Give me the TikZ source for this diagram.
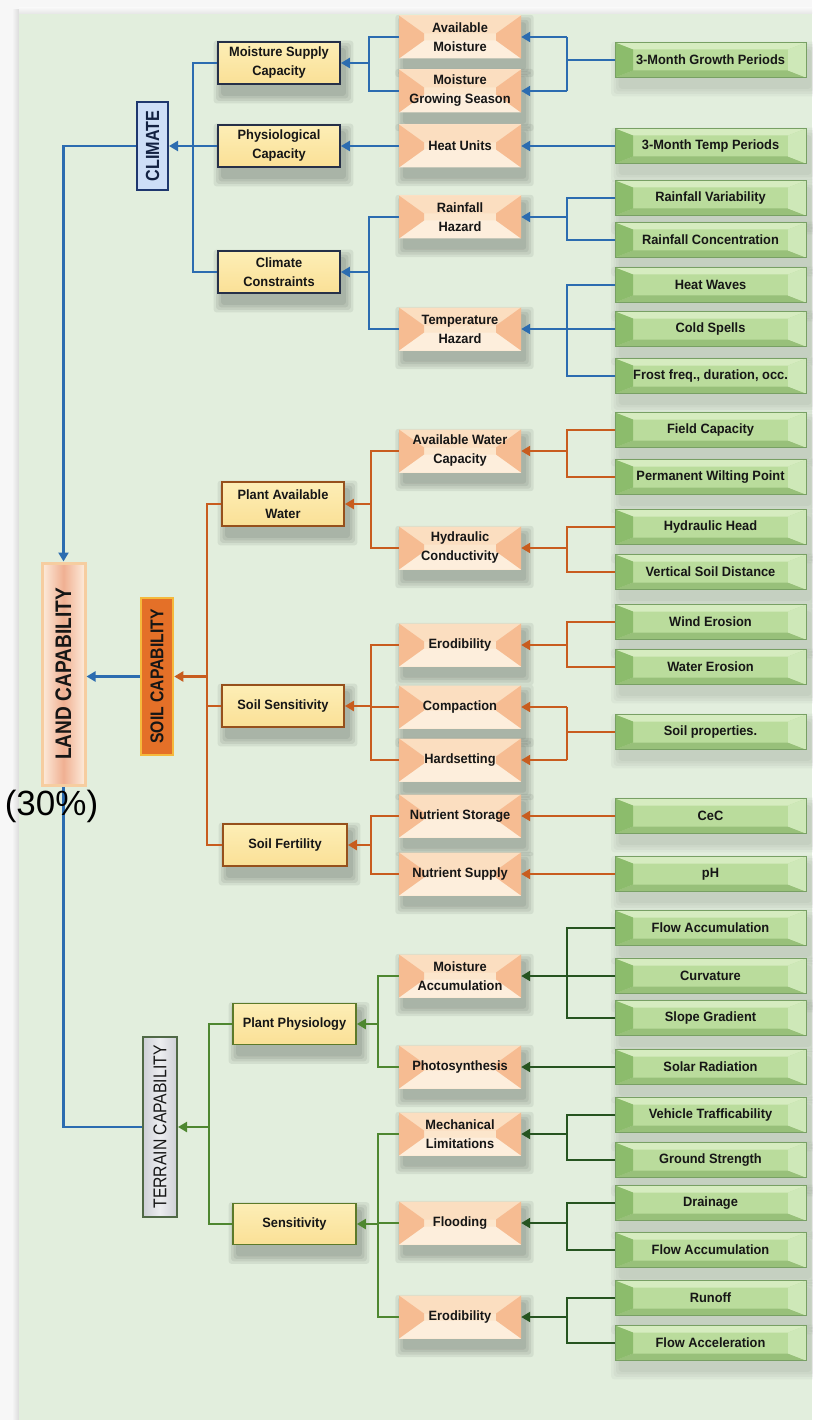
\documentclass[tikz,border=0pt]{standalone}
\usepackage{fontspec}
\setmainfont{Liberation Sans}
\newfontfamily\vfont[FakeStretch=0.85]{Liberation Sans}
\newfontfamily\bfnt[FakeStretch=0.95]{Liberation Sans}
\usetikzlibrary{arrows.meta,calc}
\pgfdeclarelayer{bg}
\pgfdeclarelayer{shad}
\pgfsetlayers{bg,shad,main}
\definecolor{outer}{RGB}{247,247,247}
\definecolor{panel}{RGB}{226,238,221}
\definecolor{txt}{RGB}{22,22,22}
\definecolor{cblue}{RGB}{44,108,176}
\definecolor{corange}{RGB}{200,92,30}
\definecolor{cgreen}{RGB}{78,135,48}
\definecolor{cdgreen}{RGB}{38,84,32}
\definecolor{ytop}{RGB}{253,238,182}
\definecolor{ybot}{RGB}{250,224,150}
\definecolor{bclim}{RGB}{38,48,72}
\definecolor{bsoil}{RGB}{150,80,28}
\definecolor{bterr}{RGB}{92,122,42}
\definecolor{omid}{RGB}{252,230,204}
\definecolor{otop}{RGB}{251,222,192}
\definecolor{obot}{RGB}{253,238,220}
\definecolor{oside}{RGB}{246,188,146}
\definecolor{gmid}{RGB}{186,220,156}
\definecolor{gtop}{RGB}{214,236,192}
\definecolor{gbot}{RGB}{152,192,122}
\definecolor{gleft}{RGB}{140,188,108}
\definecolor{gright}{RGB}{206,232,184}
\definecolor{gedge}{RGB}{120,160,100}
\definecolor{landb}{RGB}{246,205,160}
\definecolor{landl}{RGB}{253,236,220}
\definecolor{landm}{RGB}{240,176,146}
\definecolor{soilf}{RGB}{228,112,40}
\definecolor{soilb}{RGB}{245,185,60}
\definecolor{climf}{RGB}{205,222,247}
\definecolor{climb}{RGB}{30,55,110}
\definecolor{terrl}{RGB}{206,208,214}
\definecolor{terrm}{RGB}{236,237,240}
\definecolor{terrb}{RGB}{80,105,70}
\newcommand\bshadow[2][0.065]{%
  \foreach \s in {0,2.5,5,7.5}{%
    \fill[black,opacity=#1,rounded corners=3pt]
      ([shift={(4-\s,7-\s)}]#2.north west) rectangle ([shift={(5+\s,11+\s)}]#2.south east);}}
\tikzset{
  bevel/.style n args={6}{path picture={
    \fill[#3] (path picture bounding box.north west) -- (path picture bounding box.north east)
      -- ([shift={(-#1,-#2)}]path picture bounding box.north east) -- ([shift={(#1,-#2)}]path picture bounding box.north west) -- cycle;
    \fill[#4] (path picture bounding box.south west) -- (path picture bounding box.south east)
      -- ([shift={(-#1,#2)}]path picture bounding box.south east) -- ([shift={(#1,#2)}]path picture bounding box.south west) -- cycle;
    \fill[#5] (path picture bounding box.north west) -- ([shift={(#1,-#2)}]path picture bounding box.north west)
      -- ([shift={(#1,#2)}]path picture bounding box.south west) -- (path picture bounding box.south west) -- cycle;
    \fill[#6] (path picture bounding box.north east) -- ([shift={(-#1,-#2)}]path picture bounding box.north east)
      -- ([shift={(-#1,#2)}]path picture bounding box.south east) -- (path picture bounding box.south east) -- cycle;
  }},
  boxtext/.style={text=txt, align=center, font=\bfnt\bfseries\fontsize{13.5}{19}\selectfont},
  ybox/.style={boxtext, draw=#1, line width=1.8pt, top color=ytop, bottom color=ybot,
    minimum width=122pt, minimum height=42pt, inner sep=1pt},
  obox/.style={boxtext, fill=omid, minimum width=122pt, minimum height=43pt, inner sep=0pt,
    bevel={25pt}{18pt}{otop}{obot}{oside}{oside}},
  gbox/.style={boxtext, fill=gmid, draw=gedge, line width=0.6pt, minimum width=191pt, minimum height=35pt,
    inner sep=0pt, bevel={18pt}{7pt}{gtop}{gbot}{gleft}{gright}},
  conn/.style={line width=2.4pt, line join=miter},
  cb/.style={conn, draw=cblue},
  co/.style={conn, draw=corange},
  cg/.style={conn, draw=cgreen},
  cd/.style={conn, draw=cdgreen},
  arr/.style={-{Triangle[length=9pt,width=10pt]}},
}
\begin{document}
\begin{tikzpicture}[x=1pt,y=-1pt]
\useasboundingbox (0,0) rectangle (812,1420);
\begin{pgfonlayer}{bg}
\fill[outer] (0,0) rectangle (812,1420);
\shade[left color=outer, right color=black!14] (12,10) rectangle (19,1420);
\shade[top color=outer, bottom color=black!10] (19,8) rectangle (812,14);
\fill[panel] (19,14) rectangle (812,1420);
\end{pgfonlayer}

% level 0 / 1 vertical boxes
\node[draw=landb, line width=3pt, left color=landl, right color=landl, middle color=landm,
  minimum width=43pt, minimum height=222pt, inner sep=0pt, text=txt] (land) at (63.5,674)
  {\rotatebox{90}{\vfont\bfseries\fontsize{22.5}{22.5}\selectfont LAND CAPABILITY}};
\node[draw=climb, line width=2pt, fill=climf, minimum width=31pt, minimum height=88pt, inner sep=0pt, text=climb!60!black] (clim) at (152.5,146)
  {\rotatebox{90}{\vfont\bfseries\fontsize{19}{19}\selectfont CLIMATE}};
\node[draw=soilb, line width=2.5pt, fill=soilf, minimum width=32pt, minimum height=157pt, inner sep=0pt, text=txt] (soil) at (157,676.5)
  {\rotatebox{90}{\vfont\bfseries\fontsize{18.5}{18.5}\selectfont SOIL CAPABILITY}};
\node[draw=terrb, line width=2pt, left color=terrl, right color=terrl, middle color=terrm, minimum width=34pt, minimum height=180pt, inner sep=0pt, text=txt] (terr) at (160,1127)
  {\rotatebox{90}{\vfont\fontsize{18.5}{18.5}\selectfont TERRAIN CAPABILITY}};

% level 2 yellow boxes
\node[ybox=bclim] (msc) at (279,63) {Moisture Supply\\Capacity};
\node[ybox=bclim] (pc) at (279,146) {Physiological\\Capacity};
\node[ybox=bclim] (cc) at (279,272) {Climate\\Constraints};
\node[ybox=bsoil, minimum height=44pt] (paw) at (283,504) {Plant Available\\Water};
\node[ybox=bsoil] (ss) at (283,706) {Soil Sensitivity};
\node[ybox=bsoil, minimum width=124pt] (sf) at (285,845) {Soil Fertility};
\node[ybox=bterr, minimum width=123pt, minimum height=41pt] (pp) at (294.5,1024) {Plant Physiology};
\node[ybox=bterr, minimum width=123pt, minimum height=41pt] (sens) at (294.5,1224) {Sensitivity};

% level 3 orange boxes
\node[obox] (am) at (460,37) {Available\\Moisture};
\node[obox] (mgs) at (460,91) {Moisture\\Growing Season};
\node[obox] (hu) at (460,146) {Heat Units};
\node[obox] (rh) at (460,217) {Rainfall\\Hazard};
\node[obox] (th) at (460,329) {Temperature\\Hazard};
\node[obox] (awc) at (460,451) {Available Water\\Capacity};
\node[obox] (hc) at (460,548) {Hydraulic\\Conductivity};
\node[obox] (ero) at (460,645) {Erodibility};
\node[obox] (comp) at (460,707) {Compaction};
\node[obox] (hard) at (460,760) {Hardsetting};
\node[obox] (nst) at (460,816) {Nutrient Storage};
\node[obox] (nsu) at (460,874) {Nutrient Supply};
\node[obox] (ma) at (460,976) {Moisture\\Accumulation};
\node[obox] (photo) at (460,1067) {Photosynthesis};
\node[obox] (ml) at (460,1134) {Mechanical\\Limitations};
\node[obox] (flood) at (460,1223) {Flooding};
\node[obox] (ero2) at (460,1317) {Erodibility};

% level 4 green boxes
\node[gbox] (mgp) at (710.5,60) {3-Month Growth Periods};
\node[gbox] (mtp) at (710.5,146) {3-Month Temp Periods};
\node[gbox] (rv) at (710.5,198) {Rainfall Variability};
\node[gbox] (rcn) at (710.5,240) {Rainfall Concentration};
\node[gbox] (hw) at (710.5,285) {Heat Waves};
\node[gbox] (cs) at (710.5,329) {Cold Spells};
\node[gbox] (fr) at (710.5,376) {Frost freq., duration, occ.};
\node[gbox] (fc) at (710.5,430) {Field Capacity};
\node[gbox] (pwp) at (710.5,477) {Permanent Wilting Point};
\node[gbox] (hh) at (710.5,527) {Hydraulic Head};
\node[gbox] (vsd) at (710.5,572) {Vertical Soil Distance};
\node[gbox] (wie) at (710.5,622) {Wind Erosion};
\node[gbox] (wae) at (710.5,667) {Water Erosion};
\node[gbox] (sp) at (710.5,732) {Soil properties.};
\node[gbox] (cec) at (710.5,816) {CeC};
\node[gbox] (ph) at (710.5,874) {pH};
\node[gbox] (fa) at (710.5,928) {Flow Accumulation};
\node[gbox] (cur) at (710.5,976) {Curvature};
\node[gbox] (sg) at (710.5,1018) {Slope Gradient};
\node[gbox] (sr) at (710.5,1067) {Solar Radiation};
\node[gbox] (vt) at (710.5,1115) {Vehicle Trafficability};
\node[gbox] (gs) at (710.5,1160) {Ground Strength};
\node[gbox] (dr) at (710.5,1203) {Drainage};
\node[gbox] (fa2) at (710.5,1250) {Flow Accumulation};
\node[gbox] (ru) at (710.5,1298) {Runoff};
\node[gbox] (fac) at (710.5,1343) {Flow Acceleration};

% shadows
\begin{pgfonlayer}{shad}
\foreach \n in {msc,pc,cc,paw,ss,sf,pp,sens,am,mgs,hu,rh,th,awc,hc,ero,comp,hard,nst,nsu,ma,photo,ml,flood,ero2}{\bshadow{\n}}
\foreach \n in {mgp,mtp,rv,rcn,hw,cs,fr,fc,pwp,hh,vsd,wie,wae,sp,cec,ph,fa,cur,sg,sr,vt,gs,dr,fa2,ru,fac}{\bshadow[0.03]{\n}}
\end{pgfonlayer}

% bus coordinates
\coordinate (b1) at (193,0);
\coordinate (b2) at (369,0);
\coordinate (b3) at (567,0);
\coordinate (s1) at (207,0);
\coordinate (s2) at (371,0);
\coordinate (t1) at (209,0);
\coordinate (t2) at (378,0);

% top level (blue)
\draw[cb, arr] (clim.west) -| (land.north);
\draw[cb, arr] (soil.west) -- (soil.west -| land.east);
\draw[cb] (terr.west) -| (land.south);

% climate
\draw[cb] (msc.west) -- (msc.west -| b1) -- (cc.west -| b1) -- (cc.west);
\draw[cb] (pc.west) -- (pc.west -| b1);
\draw[cb, arr] (clim.east -| b1) -- (clim.east);
\draw[cb] (am.west) -- (am.west -| b2) -- (mgs.west -| b2) -- (mgs.west);
\draw[cb, arr] (msc.east -| b2) -- (msc.east);
\draw[cb, arr] (hu.west) -- (pc.east);
\draw[cb] (rh.west) -- (rh.west -| b2) -- (th.west -| b2) -- (th.west);
\draw[cb, arr] (cc.east -| b2) -- (cc.east);
\draw[cb] (mgp.west) -- (mgp.west -| b3);
\draw[cb] (am.east -| b3) -- (mgs.east -| b3);
\draw[cb, arr] (am.east -| b3) -- (am.east);
\draw[cb, arr] (mgs.east -| b3) -- (mgs.east);
\draw[cb, arr] (mtp.west) -- (hu.east);
\draw[cb] (rv.west) -- (rv.west -| b3) -- (rcn.west -| b3) -- (rcn.west);
\draw[cb, arr] (rh.east -| b3) -- (rh.east);
\draw[cb] (hw.west) -- (hw.west -| b3) -- (fr.west -| b3) -- (fr.west);
\draw[cb] (cs.west) -- (cs.west -| b3);
\draw[cb, arr] (th.east -| b3) -- (th.east);

% soil
\draw[co] (paw.west) -- (paw.west -| s1) -- (sf.west -| s1) -- (sf.west);
\draw[co] (ss.west) -- (ss.west -| s1);
\draw[co, arr] (soil.east -| s1) -- (soil.east);
\draw[co] (awc.west) -- (awc.west -| s2) -- (hc.west -| s2) -- (hc.west);
\draw[co, arr] (paw.east -| s2) -- (paw.east);
\draw[co] (ero.west) -- (ero.west -| s2) -- (hard.west -| s2) -- (hard.west);
\draw[co] (comp.west) -- (comp.west -| s2);
\draw[co, arr] (ss.east -| s2) -- (ss.east);
\draw[co] (nst.west) -- (nst.west -| s2) -- (nsu.west -| s2) -- (nsu.west);
\draw[co, arr] (sf.east -| s2) -- (sf.east);
\draw[co] (fc.west) -- (fc.west -| b3) -- (pwp.west -| b3) -- (pwp.west);
\draw[co, arr] (awc.east -| b3) -- (awc.east);
\draw[co] (hh.west) -- (hh.west -| b3) -- (vsd.west -| b3) -- (vsd.west);
\draw[co, arr] (hc.east -| b3) -- (hc.east);
\draw[co] (wie.west) -- (wie.west -| b3) -- (wae.west -| b3) -- (wae.west);
\draw[co, arr] (ero.east -| b3) -- (ero.east);
\draw[co] (sp.west) -- (sp.west -| b3);
\draw[co] (comp.east -| b3) -- (hard.east -| b3);
\draw[co, arr] (comp.east -| b3) -- (comp.east);
\draw[co, arr] (hard.east -| b3) -- (hard.east);
\draw[co, arr] (cec.west) -- (nst.east);
\draw[co, arr] (ph.west) -- (nsu.east);

% terrain
\draw[cg] (pp.west) -- (pp.west -| t1) -- (sens.west -| t1) -- (sens.west);
\draw[cg, arr] (terr.east -| t1) -- (terr.east);
\draw[cg] (ma.west) -- (ma.west -| t2) -- (photo.west -| t2) -- (photo.west);
\draw[cg, arr] (pp.east -| t2) -- (pp.east);
\draw[cg] (ml.west) -- (ml.west -| t2) -- (ero2.west -| t2) -- (ero2.west);
\draw[cg] (flood.west) -- (flood.west -| t2);
\draw[cg, arr] (sens.east -| t2) -- (sens.east);
\draw[cd] (fa.west) -- (fa.west -| b3) -- (sg.west -| b3) -- (sg.west);
\draw[cd] (cur.west) -- (cur.west -| b3);
\draw[cd, arr] (ma.east -| b3) -- (ma.east);
\draw[cd, arr] (sr.west) -- (photo.east);
\draw[cd] (vt.west) -- (vt.west -| b3) -- (gs.west -| b3) -- (gs.west);
\draw[cd, arr] (ml.east -| b3) -- (ml.east);
\draw[cd] (dr.west) -- (dr.west -| b3) -- (fa2.west -| b3) -- (fa2.west);
\draw[cd, arr] (flood.east -| b3) -- (flood.east);
\draw[cd] (ru.west) -- (ru.west -| b3) -- (fac.west -| b3) -- (fac.west);
\draw[cd, arr] (ero2.east -| b3) -- (ero2.east);

\node[font=\fontsize{35}{35}\selectfont, anchor=base, text=black, inner sep=0pt] (pct) at (51.5,815) {(30\%)};
\end{tikzpicture}
\end{document}
